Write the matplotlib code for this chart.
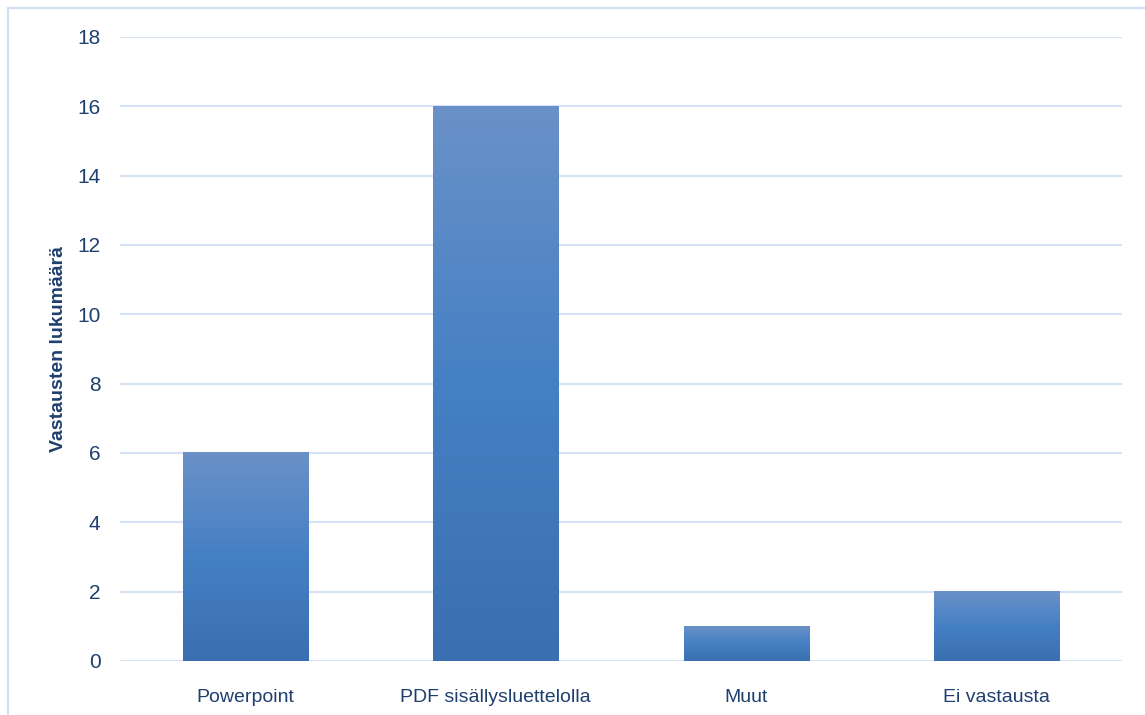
import matplotlib
matplotlib.use("Agg")
import matplotlib.pyplot as plt
import numpy as np
from matplotlib.colors import LinearSegmentedColormap
from matplotlib.patches import Rectangle

categories = ["Powerpoint", "PDF sisällysluettelolla", "Muut", "Ei vastausta"]
values = [6, 16, 1, 2]
yticks = [0, 2, 4, 6, 8, 10, 12, 14, 16, 18]

plt.rcParams['font.family'] = ['Liberation Sans', 'DejaVu Sans']
text_color = "#1f3f6e"
grid_color = "#d6e2f5"

fig = plt.figure(figsize=(11.45, 7.15), dpi=100)
ax = fig.add_axes([120 / 1145, 1 - 661 / 715, 1002 / 1145, 624 / 715])

# outer frame lines (left and top)
fig.add_artist(Rectangle((8 / 1145, -0.1), 1.2, 1 - 8 / 715 + 0.1,
                         transform=fig.transFigure, fill=False,
                         edgecolor="#d0dff3", linewidth=1.5))

# vertical gradient for bars: light top, darker bottom
cmap = LinearSegmentedColormap.from_list(
    "bar", ["#3a6fb1", "#4580c4", "#6a91c8"])
grad = np.linspace(0, 1, 256).reshape(-1, 1)

width = 0.5
for i, v in enumerate(values):
    ax.imshow(grad, extent=(i - width / 2, i + width / 2, 0, v),
              origin="lower", cmap=cmap, aspect="auto", zorder=3)

ax.set_xlim(-0.5, len(categories) - 0.5)
ax.set_ylim(0, 18)
ax.set_yticks(yticks)
ax.set_xticks(range(len(categories)))
ax.set_xticklabels(categories)

ax.yaxis.grid(True, color=grid_color, linewidth=1.5)
ax.set_axisbelow(True)
for s in ax.spines.values():
    s.set_visible(False)
ax.tick_params(axis="both", length=0, colors=text_color)
ax.tick_params(axis="y", labelsize=15, pad=14)
ax.tick_params(axis="x", labelsize=14, pad=20)

ax.set_ylabel("Vastausten lukumäärä", fontsize=14, fontweight="bold",
              color=text_color)
ax.yaxis.set_label_coords(-53 / 1002, 0.5)

fig.savefig("out.png", dpi=100)
